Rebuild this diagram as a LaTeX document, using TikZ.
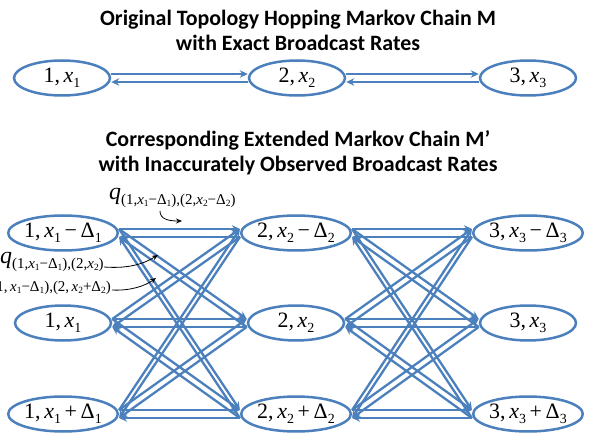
\documentclass[tikz,border=0pt]{standalone}
\usepackage{fontspec}
\setmainfont{Liberation Serif}
\newfontfamily\titlefont{Carlito}
\usetikzlibrary{shapes.geometric,arrows.meta,calc}
\definecolor{ppblue}{RGB}{76,128,189}
\newcommand\lsb[1]{\raisebox{-5bp}{\fontsize{14}{14}\selectfont #1}}
\newcommand\qsub[1]{\raisebox{-4.5bp}{\fontsize{15}{15}\selectfont #1}}
\newcommand\qsubb[1]{\raisebox{-2.5bp}{\fontsize{9.5}{9.5}\selectfont #1}}
\newcommand\mn{\,−\,}
\newcommand\pl{\,+\,}
\begin{document}
\begin{tikzpicture}[x=1bp,y=-1bp,
  st/.style={ellipse, draw=ppblue, line width=2.5bp, minimum width=96bp, minimum height=35bp, inner sep=0pt, font=\fontsize{22}{24}\selectfont},
  ttl/.style={font=\titlefont\bfseries\fontsize{22}{25}\selectfont, align=center},
  tr/.style={draw=ppblue, line width=2.3bp, -{Stealth[length=8bp,width=7.5bp]}},
  ptr/.style={draw=black, line width=0.8bp, -{Stealth[length=6bp,width=5bp]}},
  ql/.style={font=\fontsize{24}{26}\selectfont, inner sep=0pt}
]
\useasboundingbox (0,0) rectangle (596,444);

\node[ttl] (t1) at (298,30) {Original Topology Hopping Markov Chain M\\with Exact Broadcast Rates};
\node[ttl] (t2) at (298,153) {Corresponding Extended Markov Chain M’\\with Inaccurately Observed Broadcast Rates};

% top chain
\node[st] (o1) at (62,78) {1,\,\textit{x}\lsb{1}};
\node[st] (o2) at (297,78) {2,\,\textit{x}\lsb{2}};
\node[st] (o3) at (528,78) {3,\,\textit{x}\lsb{3}};
\draw[tr] ($(o1.east)+(0,-4)$) -- ($(o2.west)+(0,-4)$);
\draw[tr] ($(o2.west)+(0,4)$) -- ($(o1.east)+(0,4)$);
\draw[tr] ($(o2.east)+(0,-4)$) -- ($(o3.west)+(0,-4)$);
\draw[tr] ($(o3.west)+(0,4)$) -- ($(o2.east)+(0,4)$);

% extended chain
\node[st] (a1) at (63,233) {1,\,\textit{x}\lsb{1}\mn Δ\lsb{1}};
\node[st] (a2) at (63,323) {1,\,\textit{x}\lsb{1}};
\node[st] (a3) at (63,414) {1,\,\textit{x}\lsb{1}\pl Δ\lsb{1}};
\node[st] (b1) at (296,233) {2,\,\textit{x}\lsb{2}\mn Δ\lsb{2}};
\node[st] (b2) at (296,323) {2,\,\textit{x}\lsb{2}};
\node[st] (b3) at (296,414) {2,\,\textit{x}\lsb{2}\pl Δ\lsb{2}};
\node[st] (c1) at (528,233) {3,\,\textit{x}\lsb{3}\mn Δ\lsb{3}};
\node[st] (c2) at (528,323) {3,\,\textit{x}\lsb{3}};
\node[st] (c3) at (528,414) {3,\,\textit{x}\lsb{3}\pl Δ\lsb{3}};

\foreach \i in {1,2,3}{
  \foreach \j in {1,2,3}{
    \draw[tr] ($(a\i.east)+(0,-4)$) -- ($(b\j.west)+(0,-4)$);
    \draw[tr] ($(b\j.west)+(0,4)$) -- ($(a\i.east)+(0,4)$);
    \draw[tr] ($(b\i.east)+(0,-4)$) -- ($(c\j.west)+(0,-4)$);
    \draw[tr] ($(c\j.west)+(0,4)$) -- ($(b\i.east)+(0,4)$);
  }
}

% rate labels
\node[ql, anchor=base west] (q1) at (109,200) {\textit{q}\qsub{(1,\textit{x}\qsubb{1}−Δ\qsubb{1}),(2,\textit{x}\qsubb{2}−Δ\qsubb{2})}};
\node[ql, anchor=base west] (q2) at (0,264) {\textit{q}\qsub{(1,\textit{x}\qsubb{1}−Δ\qsubb{1}),(2,\textit{x}\qsubb{2})}};
\node[ql, anchor=base east] (q3) at (111,287) {\textit{q}\qsub{(1,\,\textit{x}\qsubb{1}−Δ\qsubb{1}),(2,\,\textit{x}\qsubb{2}+Δ\qsubb{2})}};

\coordinate (p1s) at (160,211);
\coordinate (p1e) at (182,221);
\coordinate (p2s) at (104,267);
\coordinate (p2e) at (158,255);
\coordinate (p3s) at (112,290);
\coordinate (p3e) at (156,278);
\draw[ptr] (p1s) .. controls (160,219) and (168,221) .. (p1e);
\draw[ptr] (p2s) .. controls (130,269) and (145,263) .. (p2e);
\draw[ptr] (p3s) .. controls (130,291) and (145,286) .. (p3e);
\end{tikzpicture}
\end{document}
